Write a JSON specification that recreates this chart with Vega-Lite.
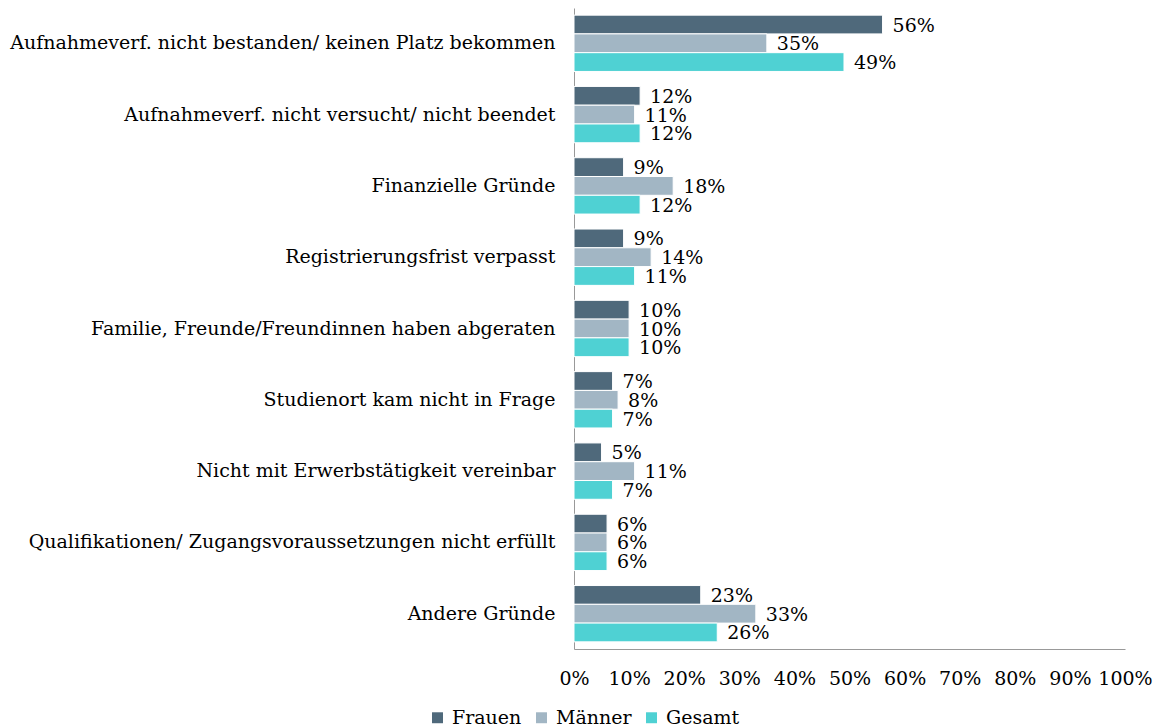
{
  "$schema": "https://vega.github.io/schema/vega-lite/v6.json",
  "width": 551,
  "height": 641,
  "autosize": {"type": "none"},
  "padding": {"left": 574, "top": 8, "right": 34, "bottom": 79},
  "background": "white",
  "config": {
    "font": "DejaVu Serif",
    "view": {"stroke": null},
    "axis": {"labelFont": "DejaVu Serif", "labelColor": "#000000", "labelFontSize": 19, "domainColor": "#999999", "ticks": false, "grid": false, "title": null},
    "legend": {"labelFont": "DejaVu Serif", "labelFontSize": 19, "labelColor": "#000000"}
  },
  "data": {
    "values": [
      {"grund": "Aufnahmeverf. nicht bestanden/ keinen Platz bekommen", "gruppe": "Frauen", "wert": 56},
      {"grund": "Aufnahmeverf. nicht bestanden/ keinen Platz bekommen", "gruppe": "Männer", "wert": 35},
      {"grund": "Aufnahmeverf. nicht bestanden/ keinen Platz bekommen", "gruppe": "Gesamt", "wert": 49},
      {"grund": "Aufnahmeverf. nicht versucht/ nicht beendet", "gruppe": "Frauen", "wert": 12},
      {"grund": "Aufnahmeverf. nicht versucht/ nicht beendet", "gruppe": "Männer", "wert": 11},
      {"grund": "Aufnahmeverf. nicht versucht/ nicht beendet", "gruppe": "Gesamt", "wert": 12},
      {"grund": "Finanzielle Gründe", "gruppe": "Frauen", "wert": 9},
      {"grund": "Finanzielle Gründe", "gruppe": "Männer", "wert": 18},
      {"grund": "Finanzielle Gründe", "gruppe": "Gesamt", "wert": 12},
      {"grund": "Registrierungsfrist verpasst", "gruppe": "Frauen", "wert": 9},
      {"grund": "Registrierungsfrist verpasst", "gruppe": "Männer", "wert": 14},
      {"grund": "Registrierungsfrist verpasst", "gruppe": "Gesamt", "wert": 11},
      {"grund": "Familie, Freunde/Freundinnen haben abgeraten", "gruppe": "Frauen", "wert": 10},
      {"grund": "Familie, Freunde/Freundinnen haben abgeraten", "gruppe": "Männer", "wert": 10},
      {"grund": "Familie, Freunde/Freundinnen haben abgeraten", "gruppe": "Gesamt", "wert": 10},
      {"grund": "Studienort kam nicht in Frage", "gruppe": "Frauen", "wert": 7},
      {"grund": "Studienort kam nicht in Frage", "gruppe": "Männer", "wert": 8},
      {"grund": "Studienort kam nicht in Frage", "gruppe": "Gesamt", "wert": 7},
      {"grund": "Nicht mit Erwerbstätigkeit vereinbar", "gruppe": "Frauen", "wert": 5},
      {"grund": "Nicht mit Erwerbstätigkeit vereinbar", "gruppe": "Männer", "wert": 11},
      {"grund": "Nicht mit Erwerbstätigkeit vereinbar", "gruppe": "Gesamt", "wert": 7},
      {"grund": "Qualifikationen/ Zugangsvoraussetzungen nicht erfüllt", "gruppe": "Frauen", "wert": 6},
      {"grund": "Qualifikationen/ Zugangsvoraussetzungen nicht erfüllt", "gruppe": "Männer", "wert": 6},
      {"grund": "Qualifikationen/ Zugangsvoraussetzungen nicht erfüllt", "gruppe": "Gesamt", "wert": 6},
      {"grund": "Andere Gründe", "gruppe": "Frauen", "wert": 23},
      {"grund": "Andere Gründe", "gruppe": "Männer", "wert": 33},
      {"grund": "Andere Gründe", "gruppe": "Gesamt", "wert": 26}
    ]
  },
  "transform": [{"calculate": "datum.wert + '%'", "as": "lbl"}],
  "encoding": {
    "y": {
      "field": "grund",
      "type": "nominal",
      "sort": null,
      "scale": {"paddingInner": 0.21, "paddingOuter": 0.1},
      "axis": {"labelPadding": 19, "labelLimit": 600, "domain": true}
    },
    "yOffset": {
      "field": "gruppe",
      "type": "nominal",
      "sort": ["Frauen", "Männer", "Gesamt"],
      "scale": {"paddingInner": 0}
    },
    "x": {
      "field": "wert",
      "type": "quantitative",
      "scale": {"domain": [0, 100]},
      "axis": {"values": [0, 10, 20, 30, 40, 50, 60, 70, 80, 90, 100], "labelExpr": "datum.value + '%'", "labelPadding": 20, "labelFlush": false, "labelOverlap": false}
    }
  },
  "layer": [
    {
      "mark": {"type": "bar", "stroke": "white", "strokeWidth": 1},
      "encoding": {
        "color": {
          "field": "gruppe",
          "type": "nominal",
          "sort": ["Frauen", "Männer", "Gesamt"],
          "scale": {"domain": ["Frauen", "Männer", "Gesamt"], "range": ["#4f697b", "#a2b6c4", "#4fd1d3"]},
          "legend": {"title": null, "orient": "none", "direction": "horizontal", "legendX": -146, "legendY": 700, "symbolType": "square", "symbolSize": 120, "symbolStrokeWidth": 0, "columnPadding": 10, "labelOffset": 5}
        }
      }
    },
    {
      "mark": {"type": "text", "align": "left", "baseline": "middle", "dx": 10, "dy": 1, "fontSize": 19, "font": "DejaVu Serif", "color": "#000000"},
      "encoding": {
        "text": {"field": "lbl", "type": "nominal"},
        "detail": {"field": "gruppe"}
      }
    }
  ]
}
